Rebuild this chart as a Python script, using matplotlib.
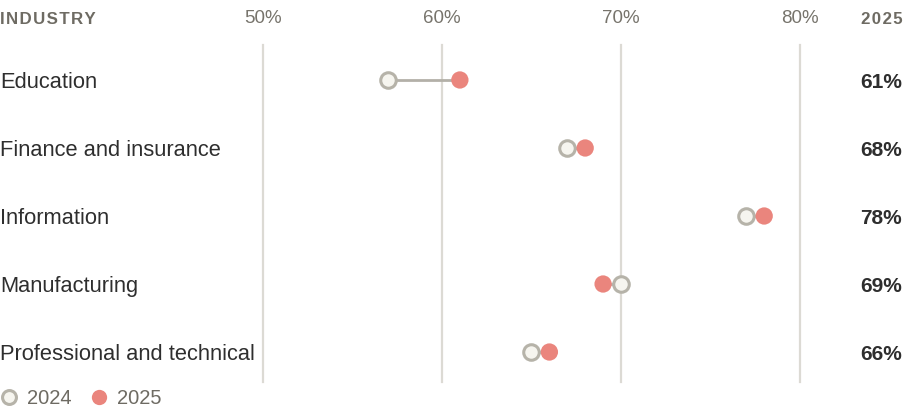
import matplotlib.pyplot as plt
from matplotlib.lines import Line2D

industries = ["Education", "Finance and insurance", "Information",
              "Manufacturing", "Professional and technical"]
share_2024 = [57, 67, 77, 70, 65]
share_2025 = [61, 68, 78, 69, 66]
ticks = [50, 60, 70, 80]
tick_labels = ["50%", "60%", "70%", "80%"]

plt.rcParams["font.family"] = ["Liberation Sans", "DejaVu Sans"]

c_2024_edge = "#b6b3a9"
c_2024_face = "#f6f5ef"
c_2025 = "#ea857d"
c_line = "#b3b0a8"
c_grid = "#dcdad4"
c_head = "#6e6b63"
c_text = "#2e2e2e"

fig = plt.figure(figsize=(9.04, 4.12), dpi=100)
ax = fig.add_axes([0, 0, 1, 1])
ax.set_xlim(35.31, 85.81)
ax.set_ylim(4.882, -1.176)
ax.axis("off")
ytr = ax.get_yaxis_transform()


def spaced(s):
    # letter-spaced header text
    return "\u200a".join(s)


# gridlines
for t in ticks:
    ax.plot([t, t], [-0.52, 4.44], color=c_grid, lw=1.6, zorder=1)
for t, lab in zip(ticks, tick_labels):
    ax.text(t, -0.9, lab, ha="center", va="center", fontsize=13.5, color="#77746c")

ax.text(0.0, -0.89, spaced("INDUSTRY"), transform=ytr, ha="left", va="center",
        fontsize=12.2, fontweight="bold", color=c_head)
ax.text(0.998, -0.89, spaced("2025"), transform=ytr, ha="right", va="center",
        fontsize=12.2, fontweight="bold", color=c_head)

for i, (name, a, b) in enumerate(zip(industries, share_2024, share_2025)):
    ax.plot([a, b], [i, i], color=c_line, lw=2, zorder=2)
    ax.text(0.0, i + 0.03, name, transform=ytr, ha="left", va="center",
            fontsize=15.75, color=c_text)
    ax.text(0.998, i + 0.03, f"{b}%", transform=ytr, ha="right", va="center",
            fontsize=15, fontweight="bold", color=c_text)

ax.scatter(share_2024, range(len(industries)), s=125, facecolor=c_2024_face,
           edgecolor=c_2024_edge, linewidth=2.2, zorder=3)
ax.scatter(share_2025, range(len(industries)), s=155, facecolor=c_2025,
           edgecolor="none", zorder=4)

handles = [
    Line2D([], [], ls="none", marker="o", markersize=10, markerfacecolor=c_2024_face,
           markeredgecolor=c_2024_edge, markeredgewidth=2.2),
    Line2D([], [], ls="none", marker="o", markersize=11, markerfacecolor=c_2025,
           markeredgecolor="none"),
]
ax.legend(handles, ["2024", "2025"], loc="lower left", bbox_to_anchor=(-0.008, -0.009),
          ncol=2, frameon=False, fontsize=14.5, handlelength=0.8, handletextpad=0.5,
          columnspacing=0.95, labelcolor="#6e6b63", borderaxespad=0)

fig.savefig("out.png", dpi=100)
